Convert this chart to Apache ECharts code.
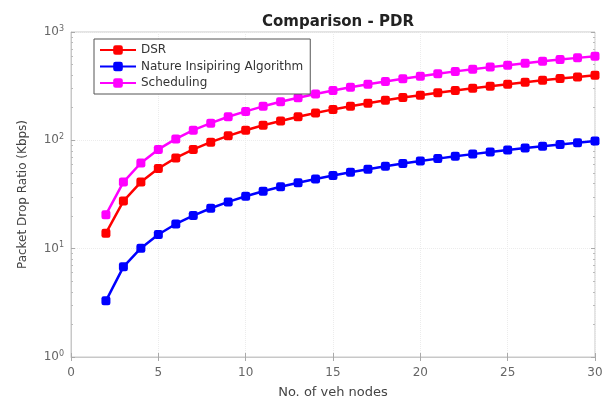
<!DOCTYPE html>
<html>
<head>
<meta charset="utf-8">
<script src="https://cdn.jsdelivr.net/npm/echarts@6/dist/echarts.min.js"></script>
<style>
  html, body { margin: 0; padding: 0; background: #fff; }
  #chart { width: 611px; height: 401px; }
</style>
</head>
<body>
<div id="chart"></div>
<script>
// Number of vehicle nodes (x) and packet drop ratio per routing scheme
const nodes = [2, 3, 4, 5, 6, 7, 8, 9, 10, 11, 12, 13, 14, 15, 16, 17, 18, 19, 20, 21, 22, 23, 24, 25, 26, 27, 28, 29, 30];
const dsr = [13.9, 27.5, 41.2, 55.0, 68.8, 82.5, 96.2, 110, 124, 138, 151, 165, 179, 193, 206, 220, 234, 248, 261, 275, 289, 303, 316, 330, 344, 358, 372, 385, 399];
const nature = [3.3, 6.8, 10.1, 13.5, 16.9, 20.2, 23.6, 27.0, 30.5, 33.9, 37.3, 40.6, 44.0, 47.4, 50.8, 54.2, 57.6, 61.0, 64.4, 67.8, 71.2, 74.6, 78.0, 81.4, 84.8, 88.2, 91.6, 95.0, 98.5];
const scheduling = [20.6, 41.2, 61.8, 82.4, 103, 124, 144, 165, 185, 206, 227, 247, 268, 288, 309, 330, 350, 371, 391, 412, 433, 453, 474, 494, 515, 536, 556, 577, 597];

const seriesNames = ['DSR', 'Nature Insipiring Algorithm', 'Scheduling'];
const seriesColors = ['#ff0000', '#0000ff', '#ff00ff'];
const seriesData = [dsr, nature, scheduling];

// minor tick positions (log10 of 2..9 within each decade)
const minorLog = [];
for (let d = 0; d < 3; d++) {
  for (let k = 2; k <= 9; k++) minorLog.push(d + Math.log10(k));
}

const FONT = 'DejaVu Sans';
const axisGrey = '#c8c8c8';
const labelGrey = '#666';

const chart = echarts.init(document.getElementById('chart'), null, { renderer: 'canvas' });

chart.setOption({
  animation: false,
  backgroundColor: '#fff',
  title: {
    text: 'Comparison - PDR',
    left: 333, top: 10, textAlign: 'center',
    textStyle: { fontFamily: FONT, fontSize: 15, fontWeight: 'bold', color: '#222' }
  },
  grid: {
    left: 71, right: 16, top: 32, bottom: 44,
    outerBoundsMode: 'none',
    show: true, borderColor: axisGrey, borderWidth: 1
  },
  legend: {
    orient: 'vertical',
    left: 94, top: 39,
    padding: [5, 7, 5, 5],
    itemGap: 4.5,
    itemWidth: 36, itemHeight: 12,
    borderColor: '#555', borderWidth: 1,
    backgroundColor: '#fff',
    textStyle: { fontFamily: FONT, fontSize: 12, color: '#333' },
    data: seriesNames
  },
  xAxis: [{
    type: 'value', min: 0, max: 30, interval: 5,
    name: 'No. of veh nodes', nameLocation: 'middle', nameGap: 29,
    nameTextStyle: { fontFamily: FONT, fontSize: 13, color: '#444' },
    axisLine: { onZero: false, lineStyle: { color: axisGrey } },
    axisTick: { inside: true, length: 4, lineStyle: { color: '#aaa' } },
    axisLabel: { fontFamily: FONT, fontSize: 12, color: labelGrey, margin: 10 },
    splitLine: { show: true, lineStyle: { color: '#ececec', type: 'dotted' } }
  }, {
    type: 'value', min: 0, max: 30, interval: 5, position: 'top',
    axisLine: { show: false },
    axisTick: { inside: true, length: 4, lineStyle: { color: '#aaa' } },
    axisLabel: { show: false }, splitLine: { show: false }
  }],
  yAxis: [{
    type: 'log', logBase: 10, min: 1, max: 1000,
    name: 'Packet Drop Ratio (Kbps)', nameLocation: 'middle', nameGap: 42,
    nameTextStyle: { fontFamily: FONT, fontSize: 12, color: '#444' },
    axisLine: { lineStyle: { color: axisGrey } },
    axisTick: { inside: true, length: 4, lineStyle: { color: '#aaa' } },
    axisLabel: {
      margin: 7,
      formatter: (v) => '{b|10}{s|' + Math.round(Math.log10(v)) + '}',
      rich: {
        b: { fontFamily: FONT, fontSize: 12, color: labelGrey },
        s: { fontFamily: FONT, fontSize: 8, color: labelGrey, verticalAlign: 'top', padding: [0, 0, 7, 0] }
      }
    },
    splitLine: { show: true, lineStyle: { color: '#ececec', type: 'dotted' } }
  }, {
    // minor ticks on the left edge
    type: 'value', min: 0, max: 3, position: 'left',
    axisLine: { show: false },
    axisTick: { inside: true, length: 2, customValues: minorLog, lineStyle: { color: '#bbb' } },
    axisLabel: { show: false }, splitLine: { show: false }
  }, {
    // mirrored ticks on the right edge
    type: 'value', min: 0, max: 3, position: 'right',
    axisLine: { show: false },
    axisTick: { inside: true, length: 2, customValues: minorLog, lineStyle: { color: '#bbb' } },
    axisLabel: { show: false }, splitLine: { show: false }
  }, {
    type: 'log', logBase: 10, min: 1, max: 1000, position: 'right',
    axisLine: { show: false },
    axisTick: { inside: true, length: 4, lineStyle: { color: '#aaa' } },
    axisLabel: { show: false }, splitLine: { show: false }
  }],
  series: seriesNames.map((name, i) => ({
    name: name,
    type: 'line',
    xAxisIndex: 0, yAxisIndex: 0,
    data: nodes.map((x, j) => [x, seriesData[i][j]]),
    symbol: 'roundRect',
    symbolSize: 9,
    showAllSymbol: true,
    lineStyle: { width: 2.5, color: seriesColors[i] },
    itemStyle: { color: seriesColors[i] },
    z: 3 + (2 - i)
  }))
});
</script>
</body>
</html>
